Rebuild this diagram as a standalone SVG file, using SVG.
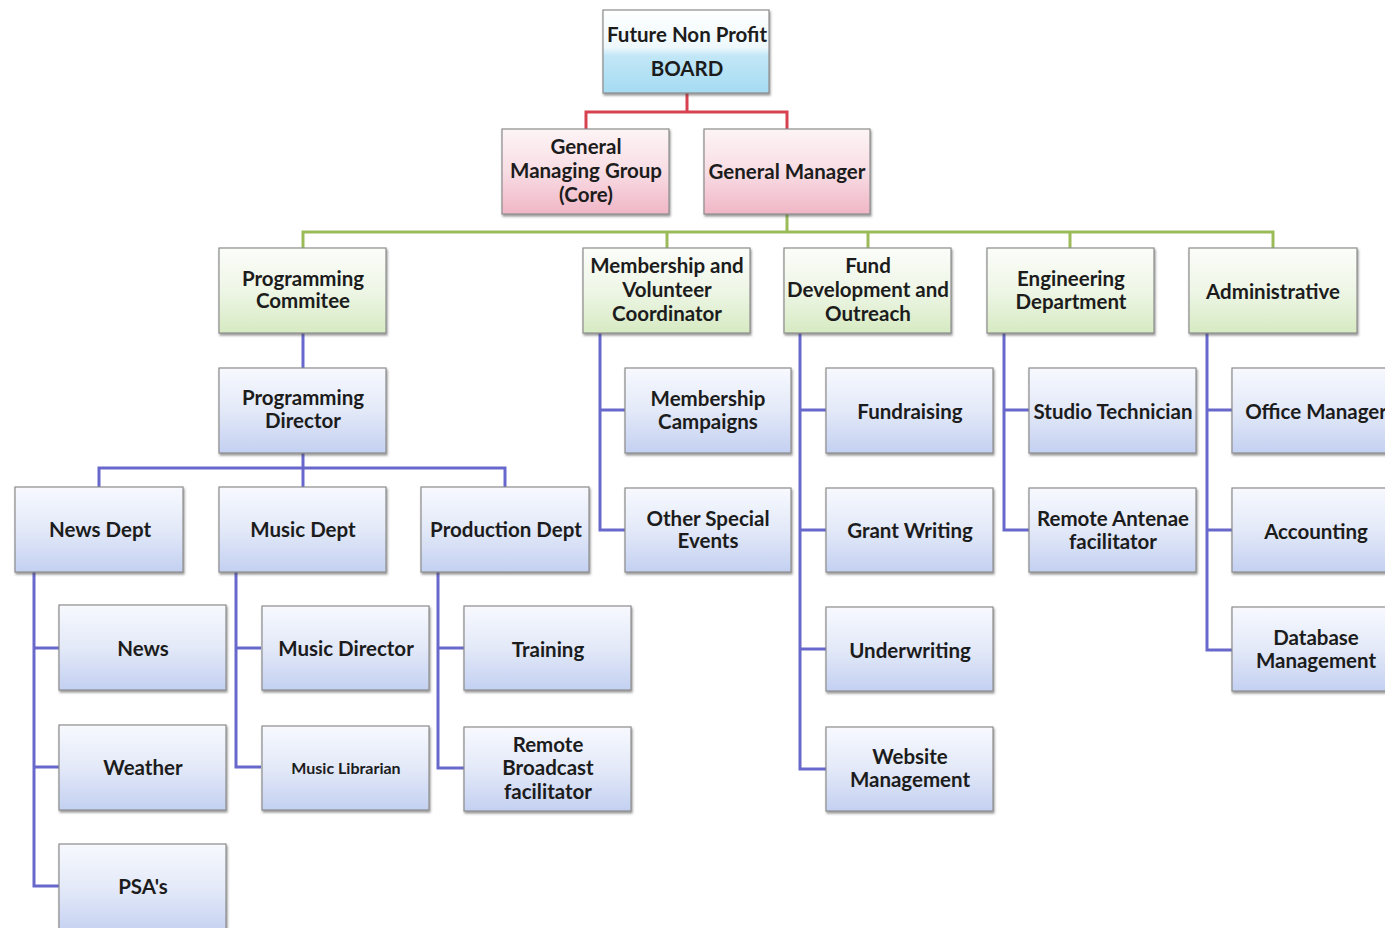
<svg xmlns="http://www.w3.org/2000/svg" width="1385" height="928" viewBox="0 0 1385 928">
<defs>
<linearGradient id="gBlue" x1="0" y1="0" x2="0" y2="1"><stop offset="0" stop-color="#f7f9fe"/><stop offset="0.5" stop-color="#e3e9f8"/><stop offset="1" stop-color="#c3d0f1"/></linearGradient>
<linearGradient id="gGreen" x1="0" y1="0" x2="0" y2="1"><stop offset="0" stop-color="#fcfdfa"/><stop offset="0.5" stop-color="#eef6e6"/><stop offset="1" stop-color="#d6eac2"/></linearGradient>
<linearGradient id="gPink" x1="0" y1="0" x2="0" y2="1"><stop offset="0" stop-color="#fdf4f6"/><stop offset="0.5" stop-color="#f8dde4"/><stop offset="1" stop-color="#f0b6c6"/></linearGradient>
<linearGradient id="gBoard" x1="0" y1="0" x2="0" y2="1"><stop offset="0" stop-color="#ffffff"/><stop offset="0.45" stop-color="#eef8fc"/><stop offset="0.55" stop-color="#c2e7f7"/><stop offset="1" stop-color="#a5dbf2"/></linearGradient>
<filter id="sh" x="-5%" y="-5%" width="115%" height="120%"><feDropShadow dx="1" dy="2" stdDeviation="1" flood-color="#444" flood-opacity="0.55"/></filter>
</defs>
<style>
.b{stroke:#8c8c8c;stroke-width:1.2;filter:url(#sh)}
.blue{fill:url(#gBlue)}
.green{fill:url(#gGreen)}
.pink{fill:url(#gPink)}
.board{fill:url(#gBoard)}
text{font-family:Lato,"Open Sans","Liberation Sans",sans-serif;font-weight:bold;font-size:20.5px;fill:#1c1c1c;text-anchor:middle}
.sm{font-size:16px}
.red{stroke:#d8414f;stroke-width:3;fill:none}
.grn{stroke:#9bbb59;stroke-width:3;fill:none}
.pur{stroke:#6868cc;stroke-width:3;fill:none}
</style>
<rect width="1385" height="928" fill="#ffffff"/>
<g id="connectors">
<path class="red" d="M687 93 V112 M586 129 V112 H787 V129"/>
<path class="grn" d="M787 214 V232 M303 249 V232 H1273 V249 M667 232 V249 M868 232 V249 M1070 232 V249"/>
<path class="pur" d="M303 333 V368 M303 453 V487 M99 487 V468 H505 V487"/>
<path class="pur" d="M34 572 V886 H59 M34 648 H59 M34 767 H59"/>
<path class="pur" d="M236 572 V767 H261 M236 648 H261"/>
<path class="pur" d="M438 572 V768 H464 M438 648 H464"/>
<path class="pur" d="M600 333 V530 H625 M600 410 H625"/>
<path class="pur" d="M800 333 V769 H826 M800 410 H826 M800 530 H826 M800 649 H826"/>
<path class="pur" d="M1004 333 V530 H1029 M1004 410 H1029"/>
<path class="pur" d="M1207 333 V650 H1233 M1207 410 H1233 M1207 530 H1233"/>
</g>
<g id="board"><rect class="b board" x="603" y="10" width="166" height="83"/><text x="687" y="42">Future Non Profit</text><text x="687" y="76">BOARD</text></g>
<g id="gmg"><rect class="b pink" x="502" y="129" width="167" height="85"/><text x="586" y="154">General</text><text x="586" y="178">Managing Group</text><text x="586" y="202">(Core)</text></g>
<g id="gm"><rect class="b pink" x="704" y="129" width="166" height="85"/><text x="787" y="179">General Manager</text></g>
<g id="progcom"><rect class="b green" x="219" y="248" width="167" height="85"/><text x="303" y="286">Programming</text><text x="303" y="308">Commitee</text></g>
<g id="member"><rect class="b green" x="583" y="248" width="167" height="85"/><text x="667" y="273">Membership and</text><text x="667" y="297">Volunteer</text><text x="667" y="321">Coordinator</text></g>
<g id="fund"><rect class="b green" x="784" y="248" width="167" height="85"/><text x="868" y="273">Fund</text><text x="868" y="297">Development and</text><text x="868" y="321">Outreach</text></g>
<g id="eng"><rect class="b green" x="987" y="248" width="167" height="85"/><text x="1071" y="286">Engineering</text><text x="1071" y="309">Department</text></g>
<g id="admin"><rect class="b green" x="1189" y="248" width="168" height="85"/><text x="1273" y="299">Administrative</text></g>
<g id="progdir"><rect class="b blue" x="219" y="368" width="167" height="85"/><text x="303" y="405">Programming</text><text x="303" y="428">Director</text></g>
<g id="newsdept"><rect class="b blue" x="15" y="487" width="168" height="85"/><text x="100" y="537">News Dept</text></g>
<g id="musicdept"><rect class="b blue" x="219" y="487" width="167" height="85"/><text x="303" y="537">Music Dept</text></g>
<g id="proddept"><rect class="b blue" x="421" y="487" width="168" height="85"/><text x="506" y="537">Production Dept</text></g>
<g id="news"><rect class="b blue" x="59" y="605" width="167" height="85"/><text x="143" y="656">News</text></g>
<g id="weather"><rect class="b blue" x="59" y="725" width="167" height="85"/><text x="143" y="775">Weather</text></g>
<g id="psa"><rect class="b blue" x="59" y="844" width="167" height="90"/><text x="143" y="894">PSA's</text></g>
<g id="musicdir"><rect class="b blue" x="262" y="606" width="167" height="84"/><text x="346" y="656">Music Director</text></g>
<g id="musiclib"><rect class="b blue" x="262" y="726" width="167" height="84"/><text class="sm" x="346" y="774">Music Librarian</text></g>
<g id="training"><rect class="b blue" x="464" y="606" width="167" height="84"/><text x="548" y="657">Training</text></g>
<g id="remotebc"><rect class="b blue" x="464" y="727" width="167" height="84"/><text x="548" y="752">Remote</text><text x="548" y="775">Broadcast</text><text x="548" y="799">facilitator</text></g>
<g id="memcamp"><rect class="b blue" x="625" y="368" width="166" height="85"/><text x="708" y="406">Membership</text><text x="708" y="429">Campaigns</text></g>
<g id="otherev"><rect class="b blue" x="625" y="488" width="166" height="84"/><text x="708" y="526">Other Special</text><text x="708" y="548">Events</text></g>
<g id="fundraising"><rect class="b blue" x="826" y="368" width="167" height="85"/><text x="910" y="419">Fundraising</text></g>
<g id="grant"><rect class="b blue" x="826" y="488" width="167" height="84"/><text x="910" y="538">Grant Writing</text></g>
<g id="underwriting"><rect class="b blue" x="826" y="607" width="167" height="84"/><text x="910" y="658">Underwriting</text></g>
<g id="website"><rect class="b blue" x="826" y="727" width="167" height="84"/><text x="910" y="764">Website</text><text x="910" y="787">Management</text></g>
<g id="studio"><rect class="b blue" x="1029" y="368" width="167" height="85"/><text x="1113" y="419">Studio Technician</text></g>
<g id="antenae"><rect class="b blue" x="1029" y="488" width="167" height="84"/><text x="1113" y="526">Remote Antenae</text><text x="1113" y="549">facilitator</text></g>
<g id="office"><rect class="b blue" x="1232" y="368" width="170" height="85"/><text x="1316" y="419">Office Manager</text></g>
<g id="accounting"><rect class="b blue" x="1232" y="488" width="170" height="84"/><text x="1316" y="539">Accounting</text></g>
<g id="database"><rect class="b blue" x="1232" y="607" width="170" height="84"/><text x="1316" y="645">Database</text><text x="1316" y="668">Management</text></g>
</svg>
